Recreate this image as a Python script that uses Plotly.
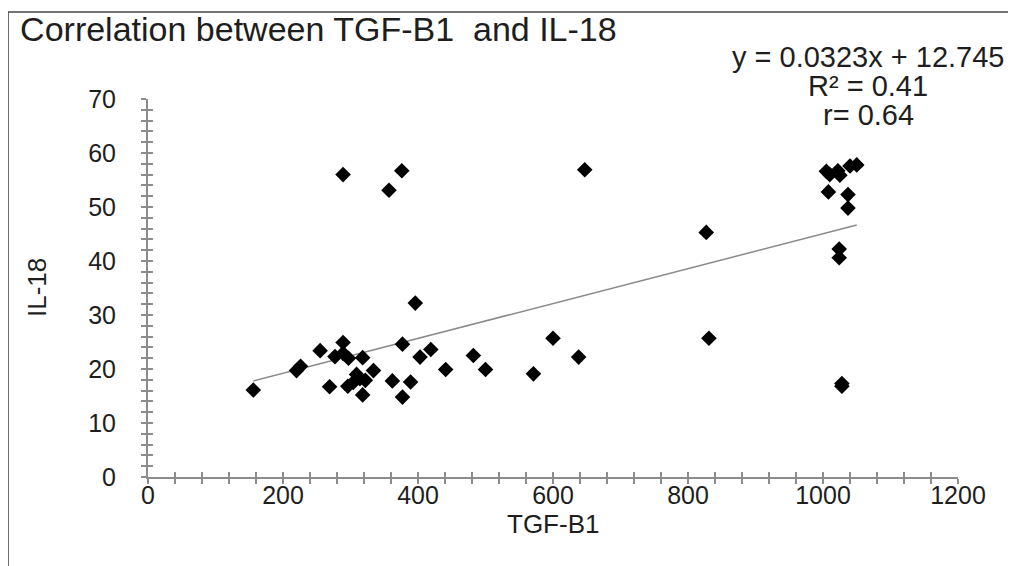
import plotly.graph_objects as go

# TGF-B1 (x) and IL-18 (y) values
tgf_b1 = [156, 220, 226, 255, 269, 277, 289, 289, 297, 296, 304, 309, 314, 318,
          322, 318, 334, 362, 377, 377, 389, 403, 419, 441, 482, 500, 571, 600,
          638, 831, 289, 376, 357, 396, 647, 827, 1005, 1010, 1022, 1025, 1040,
          1050, 1008, 1037, 1037, 1024, 1024, 1028, 1028]
il_18 = [16.1, 19.7, 20.5, 23.4, 16.7, 22.3, 24.9, 22.9, 22.0, 16.8, 17.5, 19.0,
         18.2, 22.1, 17.9, 15.2, 19.7, 17.8, 24.6, 14.8, 17.6, 22.2, 23.6, 19.9,
         22.5, 19.9, 19.1, 25.7, 22.2, 25.7, 56.0, 56.7, 53.1, 32.2, 56.9, 45.3,
         56.6, 56.0, 56.7, 55.9, 57.6, 57.8, 52.8, 52.3, 49.8, 42.2, 40.6, 17.3,
         16.8]

slope = 0.0323
intercept = 12.745
r_squared = "0.41"
r_value = "0.64"

x_ticks = [0, 200, 400, 600, 800, 1000, 1200]
y_ticks = [0, 10, 20, 30, 40, 50, 60, 70]

FONT = "Liberation Sans, Arial, sans-serif"
AX = "#8c8c8c"
TXT = "#1e1e1e"

x_min, x_max = min(tgf_b1), max(tgf_b1)
trend_x = [x_min, x_max]
trend_y = [slope * v + intercept for v in trend_x]

fig = go.Figure()
fig.add_trace(go.Scatter(x=trend_x, y=trend_y, mode="lines",
                         line=dict(color="#8a8a8a", width=1.5),
                         hoverinfo="skip", showlegend=False))
fig.add_trace(go.Scatter(x=tgf_b1, y=il_18, mode="markers",
                         marker=dict(symbol="diamond", size=12, color="black"),
                         showlegend=False))
# invisible trace on overlay axes (for ticks crossing the axis lines)
fig.add_trace(go.Scatter(x=[x_min], y=[il_18[0]], xaxis="x2", yaxis="y2",
                         mode="markers", marker=dict(opacity=0),
                         hoverinfo="skip", showlegend=False))

common_x = dict(range=[0, 1200], tickvals=x_ticks, showgrid=False, zeroline=False)
common_y = dict(range=[0, 70], tickvals=y_ticks, showgrid=False, zeroline=False)

fig.update_layout(
    width=1008, height=558,
    margin=dict(l=140, r=58, t=91, b=89),
    paper_bgcolor="white", plot_bgcolor="white",
    font=dict(family=FONT, color=TXT, size=25),
    title=dict(text="Correlation between TGF-B1  and IL-18", x=0.012, xanchor="left",
               y=0.962, yanchor="middle", font=dict(size=34, color=TXT)),
    xaxis=dict(**common_x, showline=True, linecolor=AX, linewidth=2,
               ticks="outside", ticklen=5, tickwidth=1.5, tickcolor=AX,
               minor=dict(dtick=40, ticks="outside", ticklen=5, tickwidth=1.5, tickcolor=AX),
               tickfont=dict(size=25, color=TXT), ticklabelstandoff=-10),
    yaxis=dict(**common_y, showline=True, linecolor=AX, linewidth=2,
               ticks="outside", ticklen=5, tickwidth=1.5, tickcolor=AX,
               minor=dict(dtick=2, ticks="outside", ticklen=5, tickwidth=1.5, tickcolor=AX),
               tickfont=dict(size=25, color=TXT), ticklabelstandoff=20),
    xaxis2=dict(**common_x, overlaying="x", matches="x", anchor="y2", side="bottom",
                showline=False, showticklabels=False,
                ticks="inside", ticklen=5, tickwidth=1.5, tickcolor=AX,
                minor=dict(dtick=40, ticks="inside", ticklen=5, tickwidth=1.5, tickcolor=AX)),
    yaxis2=dict(**common_y, overlaying="y", matches="y", anchor="x2", side="left",
                showline=False, showticklabels=False,
                ticks="inside", ticklen=5, tickwidth=1.5, tickcolor=AX,
                minor=dict(dtick=2, ticks="inside", ticklen=5, tickwidth=1.5, tickcolor=AX)),
    annotations=[
        dict(text=f"y = {slope}x + {intercept}", xref="paper", yref="paper",
             x=0.889, y=1.111, xanchor="center", yanchor="middle", showarrow=False,
             font=dict(size=29, color=TXT)),
        dict(text=f"R² = {r_squared}", xref="paper", yref="paper",
             x=0.889, y=1.034, xanchor="center", yanchor="middle", showarrow=False,
             font=dict(size=29, color=TXT)),
        dict(text=f"r= {r_value}", xref="paper", yref="paper",
             x=0.889, y=0.958, xanchor="center", yanchor="middle", showarrow=False,
             font=dict(size=29, color=TXT)),
        dict(text="TGF-B1", xref="paper", yref="paper", x=0.5, y=-0.124,
             xanchor="center", yanchor="middle", showarrow=False,
             font=dict(size=26, color=TXT)),
        dict(text="IL-18", xref="paper", yref="paper", x=-0.137, y=0.5,
             xanchor="center", yanchor="middle", textangle=-90, showarrow=False,
             font=dict(size=26, color=TXT)),
    ],
    shapes=[
        dict(type="line", xref="paper", yref="paper", x0=-0.1728, x1=1.2,
             y0=1.23, y1=1.23, line=dict(color="#444", width=1.5)),
        dict(type="line", xref="paper", yref="paper", x0=-0.1728, x1=-0.1728,
             y0=1.23, y1=-0.3, line=dict(color="#444", width=1.5)),
    ],
)

fig.write_html("out.html")
